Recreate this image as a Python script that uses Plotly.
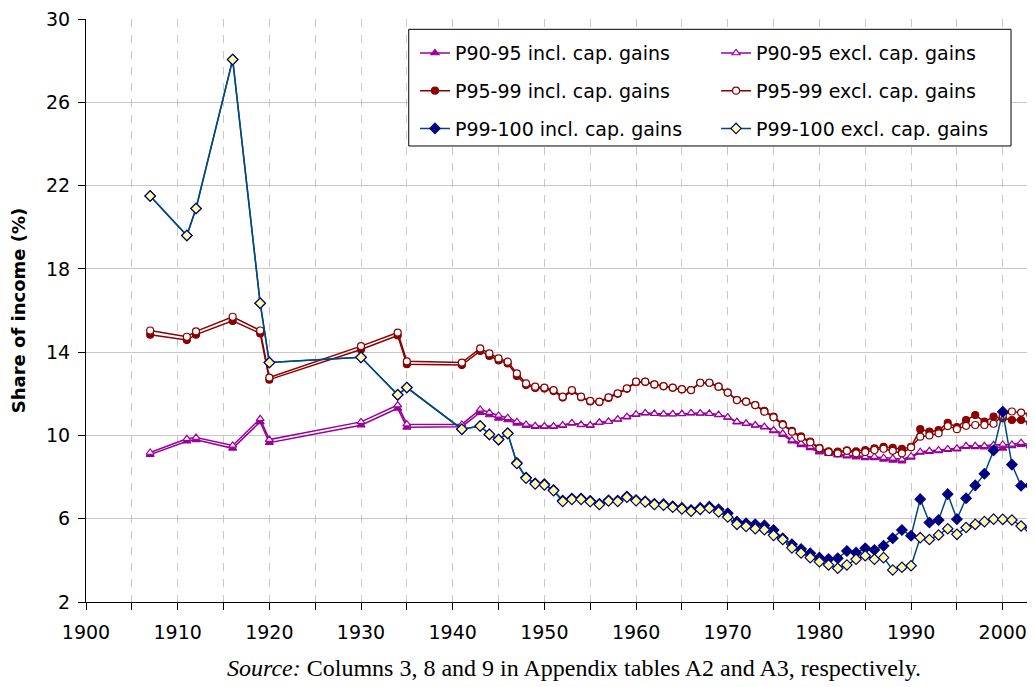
import plotly.express as px
import pandas as pd
import plotly.graph_objects as go

class topShares:

    def __init__(self):
        years = [1907, 1911, 1912, 1916, 1919, 1920, 1930, 1934, 1935, 1941] + list(range(1943, 2004))
        self.df = pd.DataFrame({
            'year': years,
            'P90-95 incl': [9.08, 9.72, 9.79, 9.38, 10.65, 9.65, 10.49, 11.3, 10.39, 10.42,
                            11.1, 10.98, 10.82, 10.74, 10.58, 10.47, 10.42,
                            10.42, 10.42, 10.47, 10.58, 10.5, 10.47, 10.62, 10.66, 10.77, 10.88,
                            11.0, 11.07, 11.04, 11.02, 11.02, 11.03, 11.07, 11.06, 11.04, 10.98,
                            10.86, 10.64, 10.56, 10.48, 10.4, 10.22, 10.04, 9.72, 9.55, 9.4,
                            9.2, 9.12, 9.05, 9.0, 8.96, 8.92, 8.92, 8.85, 8.8, 8.76,
                            8.95, 9.18, 9.22, 9.26, 9.32, 9.34, 9.46, 9.45, 9.44, 9.45,
                            9.38, 9.5, 9.56, 9.48],
            'P90-95 excl': [9.18, 9.84, 9.9, 9.52, 10.8, 9.8, 10.65, 11.46, 10.54, 10.53,
                            11.25, 11.1, 10.96, 10.85, 10.66, 10.53, 10.46,
                            10.45, 10.45, 10.5, 10.6, 10.52, 10.5, 10.63, 10.67, 10.78, 10.9,
                            11.02, 11.08, 11.05, 11.03, 11.03, 11.04, 11.08, 11.07, 11.05, 11.0,
                            10.88, 10.66, 10.58, 10.5, 10.42, 10.26, 10.1, 9.78, 9.62, 9.46,
                            9.26, 9.17, 9.1, 9.05, 9.02, 8.98, 8.98, 8.93, 8.9, 8.85,
                            9.0, 9.22, 9.26, 9.3, 9.35, 9.38, 9.5, 9.5, 9.5, 9.55,
                            9.57, 9.57, 9.65, 9.54],
            'P95-99 incl': [14.84, 14.58, 14.84, 15.5, 14.9, 12.68, 14.13, 14.8, 13.42, 13.38,
                            14.06, 13.82, 13.6, 13.46, 12.86, 12.42, 12.28,
                            12.25, 12.13, 11.82, 12.14, 11.83, 11.63, 11.6, 11.8, 12.0, 12.24,
                            12.56, 12.57, 12.44, 12.36, 12.29, 12.21, 12.18, 12.53, 12.53, 12.34,
                            12.06, 11.7, 11.62, 11.46, 11.18, 10.9, 10.55, 10.22, 9.95, 9.7,
                            9.4, 9.24, 9.22, 9.28, 9.24, 9.3, 9.38, 9.45, 9.4, 9.35,
                            9.45, 10.3, 10.18, 10.25, 10.6, 10.4, 10.74, 10.98, 10.66, 10.9,
                            10.82, 10.74, 10.74, 10.6],
            'P95-99 excl': [15.04, 14.74, 15.0, 15.7, 15.04, 12.78, 14.29, 14.94, 13.56, 13.5,
                            14.18, 13.94, 13.7, 13.54, 12.98, 12.5, 12.34,
                            12.3, 12.18, 11.86, 12.18, 11.86, 11.66, 11.62, 11.83, 12.02, 12.26,
                            12.58, 12.58, 12.45, 12.37, 12.3, 12.22, 12.18, 12.53, 12.53, 12.34,
                            12.06, 11.7, 11.62, 11.46, 11.14, 10.87, 10.51, 10.18, 9.89, 9.67,
                            9.38, 9.2, 9.14, 9.26, 9.14, 9.2, 9.3, 9.36, 9.26, 9.14,
                            9.43, 9.94, 10.0, 10.1, 10.45, 10.3, 10.46, 10.5, 10.5, 10.56,
                            10.95, 11.15, 11.1, 11.0],
            'P99-100 incl': [21.5, 19.6, 20.9, 28.05, 16.35, 13.5, 13.75, 11.95, 12.3, 10.3,
                             10.45, 10.05, 9.8, 10.1, 8.68, 7.98, 7.7,
                             7.66, 7.38, 6.87, 6.97, 6.97, 6.86, 6.72, 6.89, 6.87, 7.07,
                             6.9, 6.84, 6.72, 6.7, 6.6, 6.52, 6.42, 6.52, 6.58, 6.45,
                             6.26, 5.86, 5.78, 5.73, 5.68, 5.46, 5.06, 4.77, 4.54, 4.34,
                             4.13, 4.06, 4.1, 4.45, 4.37, 4.58, 4.5, 4.7, 5.06, 5.46,
                             5.18, 6.94, 5.82, 5.94, 7.18, 5.98, 6.98, 7.6, 8.16, 9.28,
                             11.14, 8.6, 7.58, 7.6],
            'P99-100 excl': [21.5, 19.6, 20.9, 28.05, 16.35, 13.5, 13.75, 11.95, 12.3, 10.3,
                             10.45, 10.05, 9.8, 10.1, 8.65, 7.95, 7.67,
                             7.62, 7.35, 6.83, 6.93, 6.93, 6.82, 6.68, 6.85, 6.83, 7.03,
                             6.86, 6.8, 6.68, 6.65, 6.55, 6.47, 6.36, 6.45, 6.5, 6.32,
                             6.08, 5.73, 5.63, 5.52, 5.47, 5.2, 5.0, 4.6, 4.35, 4.13,
                             3.93, 3.78, 3.62, 3.78, 4.05, 4.22, 4.05, 4.13, 3.54, 3.67,
                             3.74, 5.09, 5.0, 5.22, 5.52, 5.25, 5.58, 5.73, 5.86, 5.98,
                             5.97, 5.94, 5.65, 5.5],
        })
        # line colour, marker symbol, filled marker colour, open marker colour, marker size
        self.styles = {
            'P90-95': ('#990099', 'triangle-up', '#990099', 'white', 7),
            'P95-99': ('#8b0000', 'circle', '#8b0000', 'white', 7),
            'P99-100': ('#00487f', 'diamond', '#000080', '#ffff99', 8),
        }

    def get_figure(self):
        fig = go.Figure()

        for grp, (lc, sym, fillc, openc, sz) in self.styles.items():
            for kind in ['incl', 'excl']:
                mc = fillc if kind == 'incl' else openc
                edge = fillc if grp != 'P99-100' else '#000080'
                fig.add_trace(go.Scatter(x=self.df['year'], y=self.df[f'{grp} {kind}'], mode='lines+markers',
                                         name=f'{grp} {kind}. cap. gains', line=dict(color=lc, width=1.5),
                                         marker=dict(symbol=sym, size=sz, color=mc, line=dict(color=edge, width=1.2)),
                                         legend='legend' if kind == 'incl' else 'legend2',
                                         legendgroup=f'{grp} {kind}'))

        # Legend box and right border ----------#
        fig.add_shape(type='rect', xref='paper', yref='paper', x0=0.3408, x1=0.9768, y0=0.7822, y1=0.9823,
                      line=dict(color='black', width=1), fillcolor='white', layer='above')
        fig.add_shape(type='line', xref='paper', yref='paper', x0=1, x1=1, y0=0, y1=1,
                      line=dict(color='#b0b0b0', width=1))

        fig.add_annotation(x=0.515, y=-0.113, xref='paper', yref='paper', showarrow=False, yanchor='middle',
                           text='<i>Source:</i> Columns 3, 8 and 9 in Appendix tables A2 and A3, respectively.',
                           font=dict(family='Liberation Serif', size=24, color='black'))

        legend_style = dict(yanchor='top', xanchor='left', y=0.974, bgcolor='rgba(0,0,0,0)',
                            tracegroupgap=10, traceorder='grouped', font=dict(size=19, color='black'))
        # page body keeps an 8px margin, so the figure is shrunk by that much
        fig.update_layout(
            width=1027, height=679,
            margin=dict(l=78, r=2, t=11, b=85),
            paper_bgcolor='white',
            plot_bgcolor='white',
            font=dict(family='DejaVu Sans', size=19, color='black'),
            showlegend=True,
            legend=dict(x=0.3474, **legend_style),
            legend2=dict(x=0.6653, **legend_style),
            xaxis=dict(range=[1900, 2003.3], tickvals=list(range(1900, 2005, 5)),
                       ticktext=[str(y) if y % 10 == 0 else '' for y in range(1900, 2005, 5)],
                       showgrid=True, gridcolor='#c8c8c8', griddash='8px,8px', showline=True,
                       linecolor='black', linewidth=1, ticks='outside', ticklen=7, tickcolor='black',
                       ticklabelstandoff=6, zeroline=False, automargin=False, ticklabeloverflow='allow'),
            yaxis=dict(range=[2, 30], tickvals=list(range(2, 31, 4)), showgrid=True, gridcolor='#c8c8c8',
                       showline=True, linecolor='black', linewidth=1, ticks='outside', ticklen=7,
                       tickcolor='black', ticklabelstandoff=4, zeroline=False, automargin=False,
                       ticklabeloverflow='allow',
                       title=dict(text='<b>Share of income (%)</b>', font=dict(size=18), standoff=16)),
        )
        return fig


fig = topShares().get_figure()
fig.write_html("out.html")
